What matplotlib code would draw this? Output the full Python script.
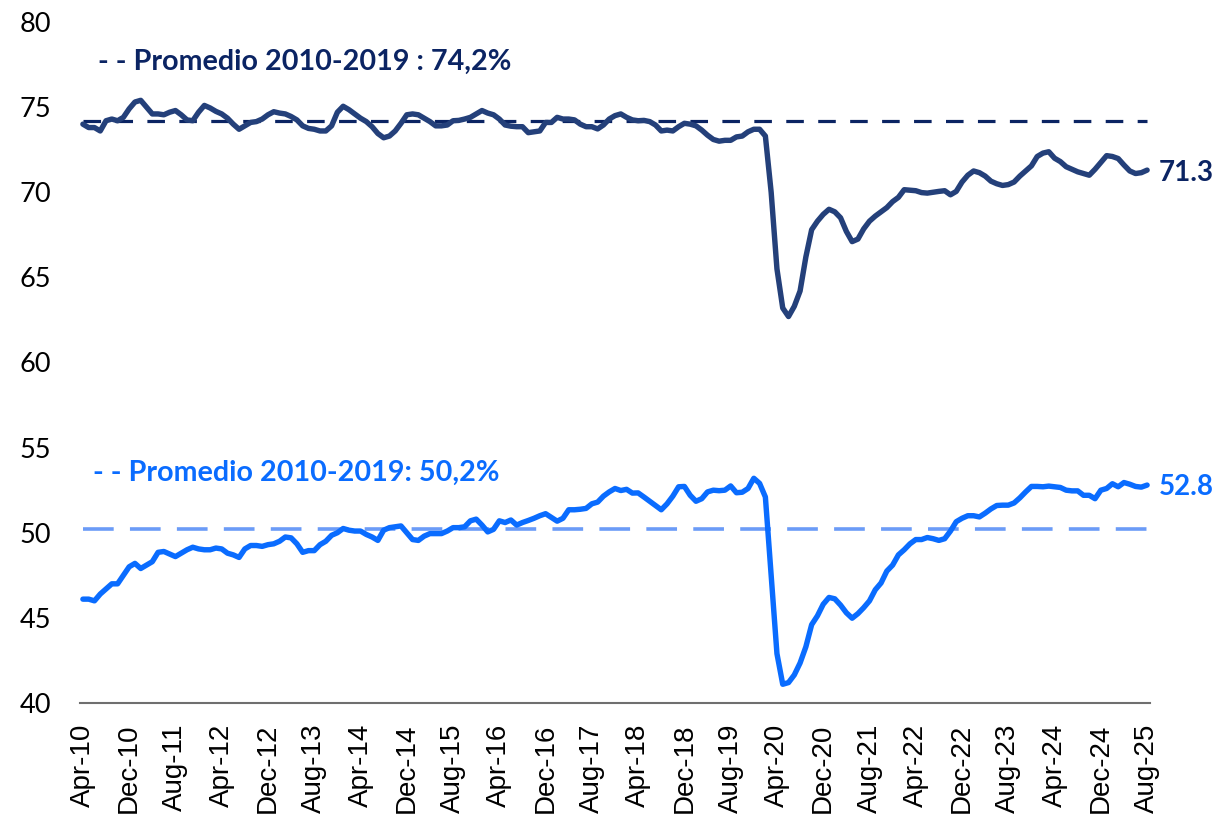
import numpy as np
import pandas as pd
import matplotlib
matplotlib.use("Agg")
import matplotlib.pyplot as plt

# monthly series, Apr-10 .. Aug-25
months = pd.date_range("2010-04-01", periods=185, freq="MS").strftime("%b-%y").tolist()

hombres = [
    74.0, 73.8, 73.8, 73.6, 74.2, 74.3, 74.2, 74.4, 74.9, 75.3,
    75.4, 75.0, 74.6, 74.6, 74.55, 74.7, 74.8, 74.55, 74.25, 74.2,
    74.7, 75.1, 74.95, 74.75, 74.6, 74.35, 74.0, 73.7, 73.9, 74.1,
    74.15, 74.3, 74.55, 74.73, 74.65, 74.6, 74.45, 74.25, 73.9, 73.75,
    73.7, 73.6, 73.6, 73.9, 74.7, 75.05, 74.85, 74.6, 74.35, 74.15,
    73.85, 73.45, 73.2, 73.3, 73.6, 74.05, 74.55, 74.6, 74.55, 74.35,
    74.15, 73.9, 73.9, 73.95, 74.2, 74.22, 74.3, 74.4, 74.6, 74.8,
    74.65, 74.55, 74.3, 73.95, 73.88, 73.85, 73.85, 73.5, 73.55, 73.6,
    74.1, 74.1, 74.4, 74.3, 74.3, 74.25, 74.0, 73.85, 73.85, 73.72,
    73.95, 74.3, 74.5, 74.6, 74.4, 74.25, 74.2, 74.22, 74.15, 73.95,
    73.6, 73.65, 73.6, 73.85, 74.05, 74.0, 73.9, 73.65, 73.35, 73.1,
    73.0, 73.05, 73.05, 73.25, 73.3, 73.55, 73.7, 73.7, 73.3, 70.0,
    65.5, 63.2, 62.7, 63.3, 64.2, 66.2, 67.8, 68.3, 68.7, 69.0,
    68.85, 68.5, 67.7, 67.1, 67.25, 67.85, 68.3, 68.6, 68.85, 69.1,
    69.45, 69.7, 70.15, 70.12, 70.09, 69.98, 69.95, 70.0, 70.05, 70.09,
    69.85, 70.05, 70.6, 71.0, 71.25, 71.15, 70.95, 70.65, 70.5, 70.4,
    70.45, 70.6, 70.95, 71.25, 71.55, 72.1, 72.3, 72.38, 72.0, 71.8,
    71.5, 71.35, 71.2, 71.1, 71.0, 71.35, 71.75, 72.15, 72.1, 71.98,
    71.6, 71.25, 71.1, 71.15, 71.3,
]

mujeres = [
    46.1, 46.1, 46.0, 46.4, 46.7, 47.0, 47.0, 47.5, 48.0, 48.2,
    47.9, 48.1, 48.3, 48.85, 48.9, 48.75, 48.6, 48.8, 49.0, 49.15,
    49.05, 49.0, 49.0, 49.1, 49.05, 48.8, 48.7, 48.55, 49.05, 49.25,
    49.25, 49.2, 49.3, 49.35, 49.5, 49.75, 49.7, 49.35, 48.85, 48.95,
    48.95, 49.3, 49.5, 49.85, 50.0, 50.25, 50.15, 50.1, 50.1, 49.9,
    49.75, 49.55, 50.15, 50.3, 50.35, 50.4, 50.0, 49.6, 49.55, 49.8,
    49.95, 49.95, 49.95, 50.1, 50.3, 50.3, 50.35, 50.7, 50.8, 50.45,
    50.05, 50.2, 50.7, 50.6, 50.75, 50.45, 50.6, 50.72, 50.85, 51.0,
    51.12, 50.9, 50.68, 50.85, 51.35, 51.35, 51.38, 51.43, 51.7, 51.8,
    52.15, 52.4, 52.6, 52.48, 52.55, 52.33, 52.34, 52.1, 51.85, 51.6,
    51.35, 51.7, 52.15, 52.7, 52.72, 52.2, 51.85, 52.0, 52.4, 52.5,
    52.47, 52.5, 52.75, 52.35, 52.38, 52.6, 53.2, 52.9, 52.1, 47.5,
    42.9, 41.1, 41.2, 41.65, 42.35, 43.3, 44.6, 45.12, 45.8, 46.2,
    46.12, 45.75, 45.3, 44.98, 45.25, 45.6, 46.0, 46.65, 47.05, 47.75,
    48.1, 48.7, 49.0, 49.35, 49.6, 49.6, 49.72, 49.65, 49.55, 49.65,
    50.1, 50.65, 50.85, 51.0, 51.0, 50.93, 51.15, 51.4, 51.6, 51.62,
    51.62, 51.75, 52.05, 52.4, 52.72, 52.72, 52.7, 52.74, 52.7, 52.66,
    52.5, 52.46, 52.46, 52.2, 52.2, 52.0, 52.5, 52.6, 52.88, 52.7,
    52.95, 52.85, 52.72, 52.68, 52.8,
]

prom_hombres = 74.2
prom_mujeres = 50.2

c_h = "#24407A"
c_h_dash = "#0B2463"
c_m = "#0A6CFF"
c_m_dash = "#6B9BF7"

fig = plt.figure(figsize=(12.2, 8.18), dpi=100)
ax = fig.add_axes([80 / 1220, 115 / 818, 1070 / 1220, 681 / 818])

x = np.arange(len(months))
ax.plot(x, [prom_hombres] * len(x), color=c_h_dash, lw=2.3, dashes=(5.5, 4.5))
ax.plot(x, [prom_mujeres] * len(x), color=c_m_dash, lw=2.6, dashes=(8.5, 4.5))
ax.plot(x, hombres, color=c_h, lw=3.9, solid_joinstyle="round", solid_capstyle="round")
ax.plot(x, mujeres, color=c_m, lw=3.9, solid_joinstyle="round", solid_capstyle="round")

ax.set_xlim(-0.5, len(x) - 0.5)
ax.set_ylim(40, 80)
ax.set_yticks(range(40, 81, 5))
ax.set_xticks(x[::8])
ax.set_xticklabels(months[::8], rotation=90, fontsize=20, family="Liberation Sans")
for lab in ax.get_yticklabels():
    lab.set_family("Lato")
    lab.set_fontsize(19.5)
ax.tick_params(axis="x", length=0, pad=15)
ax.tick_params(axis="y", length=0, pad=21)

for s in ["top", "right", "left"]:
    ax.spines[s].set_visible(False)
ax.spines["bottom"].set_color("#6F6F6F")
ax.spines["bottom"].set_linewidth(1.5)

ax.text(2.6, 77.65, "- - Promedio 2010-2019 : 74,2%", color=c_h_dash, fontsize=20.7,
        fontweight="bold", family="Lato", va="center", ha="left")
ax.text(1.7, 53.5, "- - Promedio 2010-2019: 50,2%", color=c_m, fontsize=20.7,
        fontweight="bold", family="Lato", va="center", ha="left")
ax.text(186, 71.15, "71.3", color=c_h_dash, fontsize=20, fontweight="bold",
        family="Lato", va="center", ha="left", clip_on=False)
ax.text(186, 52.7, "52.8", color=c_m, fontsize=20, fontweight="bold",
        family="Lato", va="center", ha="left", clip_on=False)

fig.savefig("out.png", dpi=100)
